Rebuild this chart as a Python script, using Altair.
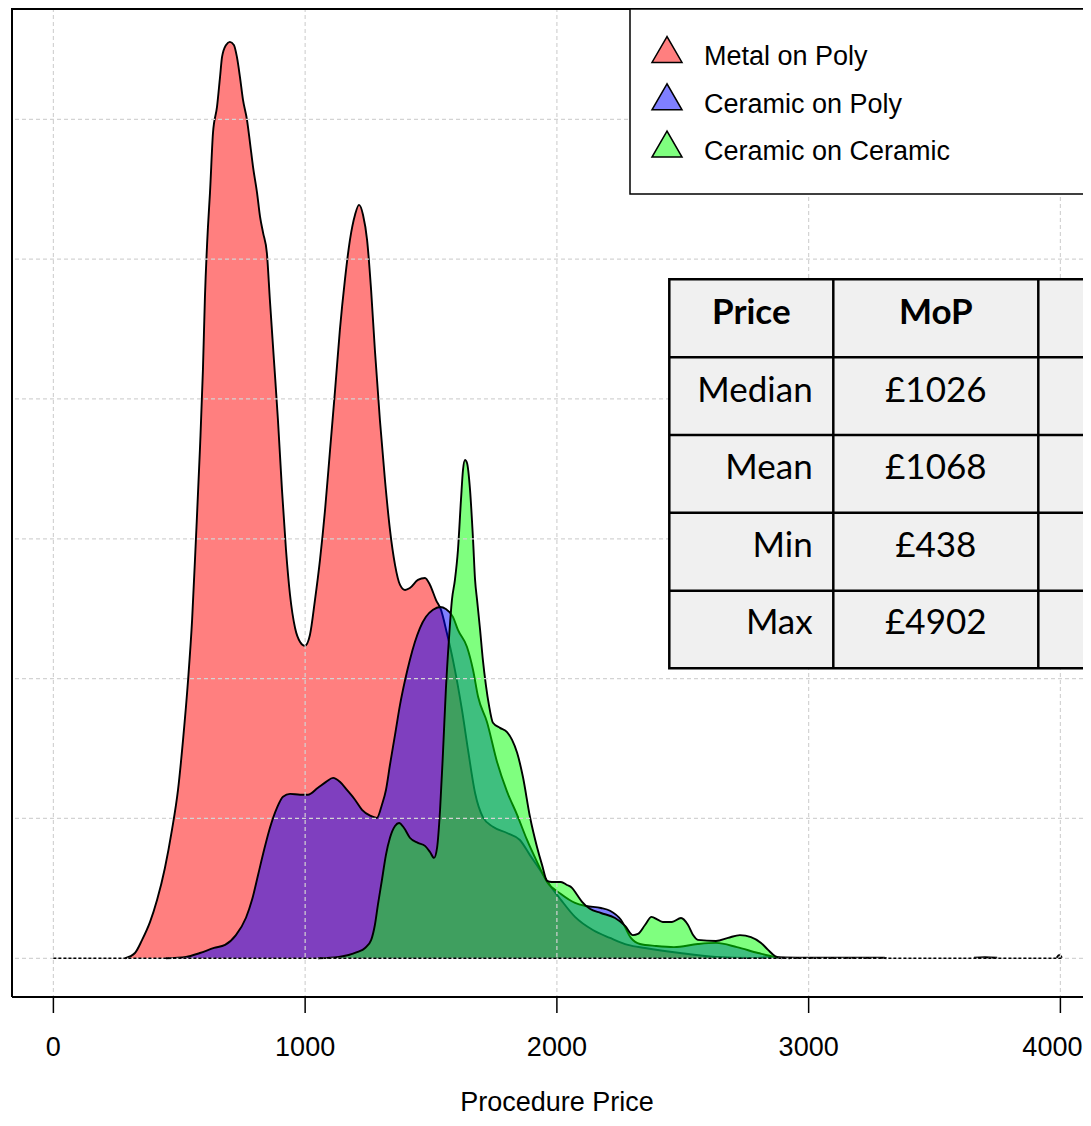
import altair as alt
import pandas as pd

# ---------------- data ----------------
series_names = ["Metal on Poly", "Ceramic on Poly", "Ceramic on Ceramic"]
series_colors = ["#FF0000", "#0000FF", "#00FF00"]

# density curves (price in GBP, density in units of 1e-4)
mop_price = [284, 324, 352, 384, 412, 443, 471, 495, 515, 535, 551, 566, 582, 594, 602, 614, 622, 634,
             650, 662, 670, 686, 701, 717, 729, 741, 753, 769, 781, 793, 809, 821, 833, 848, 860, 876,
             892, 908, 924, 940, 960, 980, 999, 1019, 1039, 1059, 1079, 1099, 1119, 1138, 1158, 1178,
             1198, 1214, 1230, 1246, 1262, 1277, 1297, 1317, 1337, 1357, 1377, 1397, 1416, 1448, 1476,
             1496, 1520, 1540, 1563, 1587, 1623, 1647, 1675, 1706, 1746, 1802, 1853, 1893, 1933, 1977,
             2016, 2072, 2143, 2211, 2282, 2350, 2489, 2632, 2771, 2850, 2900, 3000, 3300, 3310]
mop_dens = [0.0, 0.19, 0.65, 1.30, 2.09, 3.23, 4.59, 6.02, 7.81, 9.95, 12.10, 14.96, 18.18, 21.04, 23.65,
            26.16, 27.37, 29.52, 30.45, 31.52, 32.23, 32.66, 32.77, 32.66, 32.23, 31.52, 30.70, 29.98,
            29.16, 28.30, 27.37, 26.51, 25.94, 25.22, 23.54, 21.40, 19.25, 16.75, 14.60, 12.99, 11.81,
            11.31, 11.17, 11.56, 12.81, 14.25, 16.03, 18.18, 20.33, 22.47, 24.26, 25.69, 26.58, 26.94,
            26.58, 25.69, 23.90, 21.76, 19.25, 17.11, 15.32, 14.07, 13.35, 13.17, 13.24, 13.53, 13.60,
            13.35, 12.81, 12.45, 11.63, 10.67, 8.88, 7.45, 5.91, 5.05, 4.70, 4.48, 4.23, 3.69, 3.16,
            2.55, 2.09, 1.48, 1.01, 0.73, 0.48, 0.37, 0.19, 0.05, 0.01, 0.04, 0.03, 0.02, 0.02, 0.0]
mop_tail_price = [3657, 3700, 3749, 3985, 3996, 4006]
mop_tail_dens = [0.02, 0.04, 0.02, 0.02, 0.12, 0.02]
mop_tail_seg = [1, 1, 1, 2, 2, 2]

cop_price = [447, 527, 582, 638, 682, 725, 765, 789, 813, 837, 860, 888, 912, 940, 980, 1011, 1051, 1083,
             1111, 1138, 1166, 1198, 1226, 1258, 1285, 1305, 1321, 1337, 1357, 1377, 1397, 1416, 1436,
             1456, 1480, 1508, 1536, 1559, 1587, 1607, 1643, 1667, 1687, 1722, 1762, 1802, 1842, 1881,
             1921, 1961, 2016, 2072, 2116, 2175, 2211, 2255, 2294, 2330, 2394, 2465, 2560, 2632, 2715,
             2799, 2866, 2926]
cop_dens = [0.0, 0.05, 0.19, 0.37, 0.48, 0.83, 1.45, 2.09, 2.98, 3.88, 4.66, 5.38, 5.78, 5.88, 5.85, 5.85,
            6.10, 6.31, 6.45, 6.31, 6.02, 5.67, 5.31, 5.10, 5.02, 5.49, 6.02, 6.92, 7.99, 9.07, 9.95,
            10.67, 11.31, 11.81, 12.21, 12.46, 12.56, 12.49, 12.21, 11.74, 11.13, 10.31, 9.35, 8.46,
            7.03, 5.96, 5.13, 4.24, 3.45, 2.73, 2.30, 1.98, 1.87, 1.80, 1.70, 1.37, 0.73, 0.51, 0.44,
            0.40, 0.51, 0.55, 0.40, 0.19, 0.05, 0.0]

coc_price = [1051, 1134, 1206, 1238, 1262, 1277, 1289, 1305, 1321, 1337, 1357, 1373, 1393, 1416, 1448,
             1476, 1496, 1512, 1524, 1536, 1548, 1559, 1571, 1583, 1595, 1607, 1619, 1627, 1635, 1643,
             1655, 1667, 1675, 1683, 1695, 1706, 1718, 1730, 1746, 1774, 1802, 1822, 1842, 1865, 1893,
             1921, 1941, 1961, 1980, 2016, 2040, 2060, 2080, 2100, 2131, 2175, 2231, 2271, 2302, 2322,
             2350, 2376, 2402, 2421, 2457, 2493, 2521, 2541, 2560, 2632, 2680, 2727, 2771, 2811, 2839,
             2866, 2894]
coc_dens = [0.0, 0.05, 0.22, 0.37, 0.65, 1.19, 1.91, 2.80, 3.70, 4.31, 4.73, 4.84, 4.66, 4.31, 4.13, 4.02,
            3.80, 3.59, 3.95, 5.31, 7.45, 9.60, 11.38, 12.81, 13.53, 14.60, 16.39, 17.46, 17.82, 17.71,
            16.75, 14.96, 13.53, 12.81, 11.74, 10.67, 9.77, 9.06, 8.42, 8.24, 8.09, 7.81, 7.35, 6.49,
            5.06, 3.98, 3.34, 2.77, 2.73, 2.73, 2.62, 2.52, 2.27, 2.02, 1.77, 1.62, 1.44, 1.16, 0.83,
            0.87, 1.19, 1.48, 1.37, 1.30, 1.30, 1.44, 1.19, 0.83, 0.66, 0.62, 0.73, 0.83, 0.76, 0.55,
            0.30, 0.08, 0.0]

baseline_range = [0, 4006]
x_ticks = [0, 1000, 2000, 3000, 4000]
y_grid = [0, 5, 10, 15, 20, 25, 30]
x_title = "Procedure Price"

table_header = ["Price", "MoP"]
table_stats = ["Median", "Mean", "Min", "Max"]
table_mop = ["£1026", "£1068", "£438", "£4902"]

# ---------------- layout ----------------
W, H = 1071, 989
FONT = "Liberation Sans"
TFONT = "Lato"
XS = alt.Scale(domain=[-164.4, 4089.8], nice=False, zero=False)
YS = alt.Scale(domain=[-1.384, 33.98], nice=False, zero=False)


def X(field):
    return alt.X(field, type="quantitative", scale=XS, axis=None)


def Y(field):
    return alt.Y(field, type="quantitative", scale=YS, axis=None)


def PX(field):
    return alt.X(field, type="quantitative", scale=None, axis=None)


def PY(field):
    return alt.Y(field, type="quantitative", scale=None, axis=None)


def curve_df(xs, ys, seg=None):
    return pd.DataFrame({"price": xs, "dens": ys, "seg": seg if seg else [0] * len(xs)})


dfs = [curve_df(mop_price, mop_dens), curve_df(cop_price, cop_dens), curve_df(coc_price, coc_dens)]
mop_line_df = pd.concat([dfs[0], curve_df(mop_tail_price, mop_tail_dens, mop_tail_seg)])
line_dfs = [mop_line_df, dfs[1], dfs[2]]

layers = []
for i in range(3):
    area = alt.Chart(dfs[i]).mark_area(fill=series_colors[i], fillOpacity=0.5, opacity=1,
                                       interpolate="monotone").encode(
        x=X("price"), y=Y("dens"), y2=alt.datum(0))
    line = alt.Chart(line_dfs[i]).mark_line(color="black", strokeWidth=1.9,
                                            interpolate="monotone").encode(
        x=X("price"), y=Y("dens"), detail="seg:N")
    layers += [area, line]

grid_v = alt.Chart(pd.DataFrame({"gx": x_ticks})).mark_rule(
    color="#D3D3D3", strokeWidth=1.2, strokeDash=[4, 3]).encode(x=X("gx"))
grid_h = alt.Chart(pd.DataFrame({"gy": y_grid})).mark_rule(
    color="#D3D3D3", strokeWidth=1.2, strokeDash=[4, 3]).encode(y=Y("gy"))
base = alt.Chart(pd.DataFrame({"x0": [baseline_range[0]], "x1": [baseline_range[1]], "y0": [0]})).mark_rule(
    color="black", strokeWidth=1.5, strokeDash=[3, 2]).encode(x=X("x0"), x2="x1:Q", y=Y("y0"))
layers += [grid_v, grid_h, base]

# frame + x axis drawn by hand
frame_top = alt.Chart().mark_rule(color="black", strokeWidth=2).encode(
    x=alt.value(0), x2=alt.value(W + 20), y=alt.value(1))
frame_bottom = alt.Chart().mark_rule(color="black", strokeWidth=2).encode(
    x=alt.value(0), x2=alt.value(W + 20), y=alt.value(H))
frame_left = alt.Chart().mark_rule(color="black", strokeWidth=2).encode(
    x=alt.value(0), y=alt.value(0), y2=alt.value(H))
tick_df = pd.DataFrame({"gx": x_ticks, "lab": [str(t) for t in x_ticks]})
ticks = alt.Chart(tick_df).mark_rule(color="black", strokeWidth=1.5).encode(
    x=X("gx"), y=alt.value(H), y2=alt.value(H + 16))
tick_labels = alt.Chart(tick_df.iloc[:-1]).mark_text(align="center", baseline="alphabetic", font=FONT,
                                                     fontSize=27, color="black").encode(
    x=X("gx"), y=alt.value(H + 59), text="lab:N")
# last label pulled in slightly so it is not cut by the page edge
tick_label_last = alt.Chart(tick_df.iloc[-1:]).mark_text(align="center", baseline="alphabetic", font=FONT,
                                                         fontSize=27, color="black", dx=-8).encode(
    x=X("gx"), y=alt.value(H + 59), text="lab:N")
title = alt.Chart().mark_text(align="center", baseline="alphabetic", font=FONT, fontSize=27,
                              color="black").encode(
    x=alt.value(545), y=alt.value(1103), text=alt.value(x_title))
layers += [frame_top, frame_bottom, frame_left, ticks, tick_labels, tick_label_last, title]

# legend
leg_box = alt.Chart().mark_rect(fill="white", stroke="black", strokeWidth=1.5).encode(
    x=alt.value(618), x2=alt.value(W + 200), y=alt.value(1), y2=alt.value(186))
leg_df = pd.DataFrame({
    "name": series_names,
    "color": series_colors,
    "tx": [655] * 3,
    "ty": [41.5 + 47.3 * i for i in range(3)],
    "lx": [692] * 3,
    "ly": [57 + 47.5 * i for i in range(3)],
})
leg_sym = alt.Chart(leg_df).mark_point(shape="triangle-up", filled=True, size=900, stroke="black",
                                       strokeWidth=1.5, fillOpacity=0.5, opacity=1).encode(
    x=PX("tx"), y=PY("ty"), fill=alt.Fill("color:N", scale=None))
leg_txt = alt.Chart(leg_df).mark_text(align="left", baseline="alphabetic", font=FONT, fontSize=27,
                                      color="black").encode(
    x=PX("lx"), y=PY("ly"), text="name:N")
layers += [leg_box, leg_sym, leg_txt]

# table overlay
TL, TT, TB = 657.3, 271.3, 660.3
col_div = [821.3, 1026.3]
row_div = [349.3, 427.0, 504.7, 582.7]
tab_bg = alt.Chart().mark_rect(fill="#F0F0F0", stroke="black", strokeWidth=2.5).encode(
    x=alt.value(TL), x2=alt.value(W + 200), y=alt.value(TT), y2=alt.value(TB))
tab_v = alt.Chart(pd.DataFrame({"vx": col_div})).mark_rule(color="black", strokeWidth=2.5).encode(
    x=PX("vx"), y=alt.value(TT), y2=alt.value(TB))
tab_h = alt.Chart(pd.DataFrame({"hy": row_div})).mark_rule(color="black", strokeWidth=2.5).encode(
    y=PY("hy"), x=alt.value(TL), x2=alt.value(W + 200))
row_base = [316 + 77.5 * i for i in range(5)]
head_df = pd.DataFrame({"t": table_header, "px": [739.3, 923.8], "py": [row_base[0]] * 2})
stat_df = pd.DataFrame({"t": table_stats, "px": [800.7] * 4, "py": row_base[1:]})
mop_df = pd.DataFrame({"t": table_mop, "px": [923.8] * 4, "py": row_base[1:]})
TFS = 35
tab_head = alt.Chart(head_df).mark_text(align="center", baseline="alphabetic", font=TFONT, fontSize=TFS,
                                        fontWeight="bold", color="black").encode(
    x=PX("px"), y=PY("py"), text="t:N")
tab_stat = alt.Chart(stat_df).mark_text(align="right", baseline="alphabetic", font=TFONT, fontSize=TFS,
                                        color="black").encode(
    x=PX("px"), y=PY("py"), text="t:N")
tab_mop = alt.Chart(mop_df).mark_text(align="center", baseline="alphabetic", font=TFONT, fontSize=TFS,
                                      color="black").encode(
    x=PX("px"), y=PY("py"), text="t:N")
layers += [tab_bg, tab_v, tab_h, tab_head, tab_stat, tab_mop]

chart = alt.layer(*layers).properties(
    width=W, height=H,
    autosize=alt.AutoSizeParams(type="none"),
    padding={"left": 4, "top": 0, "right": 0, "bottom": 121},
    background="white",
).configure_view(strokeWidth=0)

chart.save("out.html", embed_options={"renderer": "svg", "actions": False})
